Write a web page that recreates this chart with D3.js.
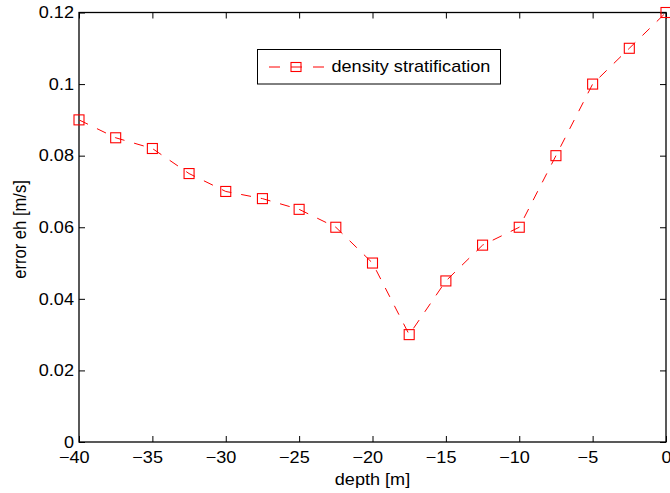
<!DOCTYPE html>
<html><head><meta charset="utf-8">
<script src="https://cdn.jsdelivr.net/npm/d3@7"></script>
<style>body{margin:0;background:#fff}svg{display:block}text{font-family:"Liberation Sans",Arial,sans-serif}</style>
</head><body>
<svg id="c" width="670" height="493"></svg>
<script>
const depth = [-40,-37.5,-35,-32.5,-30,-27.5,-25,-22.5,-20,-17.5,-15,-12.5,-10,-7.5,-5,-2.5,0];
const errorEh = [0.09,0.085,0.082,0.075,0.07,0.068,0.065,0.06,0.05,0.03,0.045,0.055,0.06,0.08,0.1,0.11,0.12];
const xTicks = [-40,-35,-30,-25,-20,-15,-10,-5,0];
const yTicks = [0,0.02,0.04,0.06,0.08,0.1,0.12];
const seriesName = "density stratification";

const svg = d3.select("#c");
const L=79, R=666, T=12.5, B=442;
const FS = 16.6, SX = 1.09;
const x = d3.scaleLinear().domain([-40,0]).range([L,R]);
const y = d3.scaleLinear().domain([0,0.12]).range([B,T]);
const fmtX = d => d<0 ? "\u2212"+Math.abs(d) : String(d);
const fmtY = d => d===0 ? "0" : String(+d.toFixed(2));
const tl = 6;

const gB = svg.append("g").attr("transform",`translate(0,${B})`)
  .call(d3.axisBottom(x).tickValues(xTicks).tickSizeInner(-tl).tickSizeOuter(0).tickPadding(9).tickFormat(fmtX));
const gT = svg.append("g").attr("transform",`translate(0,${T})`)
  .call(d3.axisTop(x).tickValues(xTicks).tickSizeInner(-tl).tickSizeOuter(0).tickFormat(""));
const gL = svg.append("g").attr("transform",`translate(${L},0)`)
  .call(d3.axisLeft(y).tickValues(yTicks).tickSizeInner(-tl).tickSizeOuter(0).tickPadding(4.6).tickFormat(fmtY));
const gR = svg.append("g").attr("transform",`translate(${R},0)`)
  .call(d3.axisRight(y).tickValues(yTicks).tickSizeInner(-tl).tickSizeOuter(0).tickFormat(""));
[gB,gT,gL,gR].forEach(g=>{
  g.select(".domain").remove();
  g.selectAll("line").attr("stroke","#000").attr("stroke-width",1);
  g.selectAll("text").attr("font-size",FS).attr("fill","#000")
    .attr("font-family","Liberation Sans, Arial, sans-serif")
    .attr("transform",`scale(${SX},1)`);
});
gB.selectAll("text").attr("dy","0.71em").attr("dx",d=>d<0?"-0.29em":0);
svg.append("rect").attr("x",L).attr("y",T).attr("width",R-L).attr("height",B-T)
  .attr("fill","none").attr("stroke","#000").attr("stroke-width",1.3);

const line = d3.line().x((d,i)=>x(depth[i])).y(d=>y(d));
svg.append("path").datum(errorEh).attr("d",line).attr("fill","none")
  .attr("stroke","#ff0000").attr("stroke-width",1).attr("stroke-dasharray","10,10");
svg.selectAll("rect.m").data(errorEh).enter().append("rect").attr("class","m")
  .attr("x",(d,i)=>x(depth[i])-5).attr("y",d=>y(d)-5).attr("width",10).attr("height",10)
  .attr("fill","none").attr("stroke","#ff0000").attr("stroke-width",1.1);

svg.append("text").attr("transform",`translate(${(L+R)/2},485) scale(${SX},1)`).attr("text-anchor","middle")
  .attr("font-size",FS).text("depth [m]");
svg.append("text").attr("transform",`translate(26,229.5) rotate(-90) scale(1,${SX})`).attr("text-anchor","middle")
  .attr("font-size",FS).text("error eh [m/s]");

const lg = svg.append("g");
lg.append("rect").attr("x",257.5).attr("y",49.5).attr("width",243).attr("height",34.5)
  .attr("fill","#fff").attr("stroke","#000").attr("stroke-width",1);
const ly = 67;
lg.append("line").attr("x1",269).attr("x2",324).attr("y1",ly).attr("y2",ly)
  .attr("stroke","#ff0000").attr("stroke-dasharray","11,11");
lg.append("rect").attr("x",291).attr("y",ly-4.5).attr("width",10).attr("height",9)
  .attr("fill","none").attr("stroke","#ff0000").attr("stroke-width",1.1);
lg.append("text").attr("transform",`translate(331.5,72) scale(${SX},1)`).attr("font-size",FS).text(seriesName);
</script>
</body></html>
